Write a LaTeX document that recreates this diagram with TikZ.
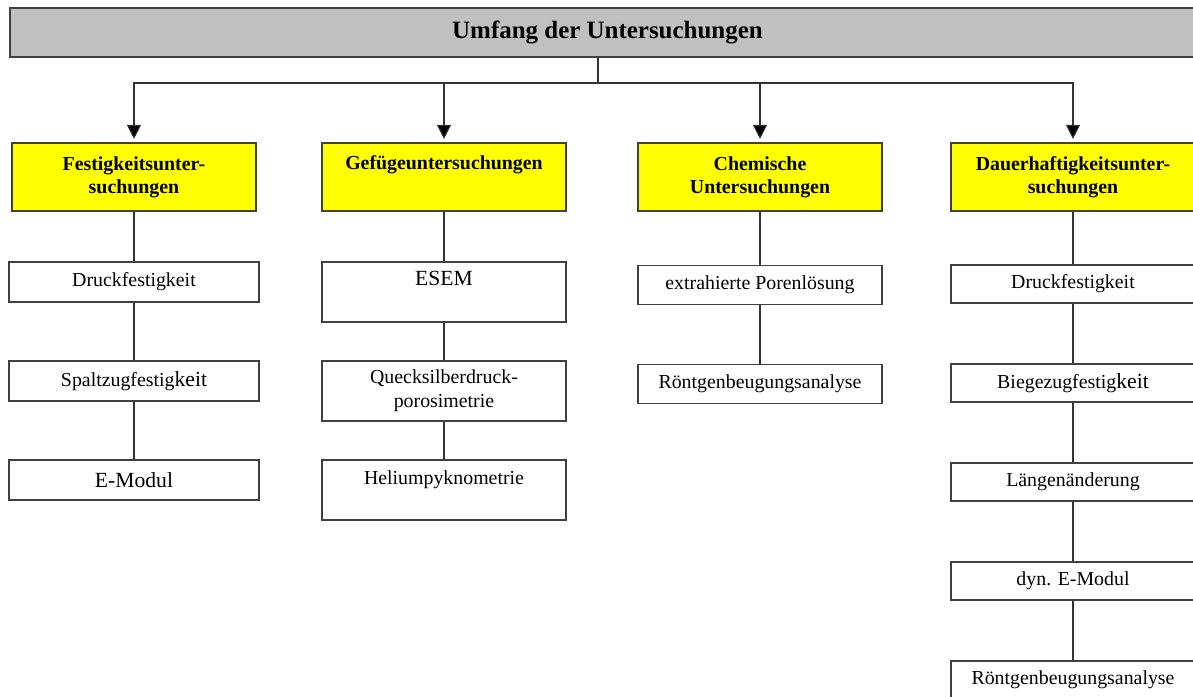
\documentclass[tikz,border=0pt]{standalone}
\usepackage{fontspec}
\setmainfont{Liberation Serif}
\usetikzlibrary{arrows.meta}
\definecolor{headyellow}{RGB}{255,255,0}
\definecolor{titlegray}{RGB}{192,192,192}

\begin{document}
\begin{tikzpicture}[
		x=0.2mm, y=-0.2mm,
		node distance={19.8mm},
		main/.style = {draw=black!75, line width=0.6pt, inner sep=0pt, align=center, font=\fontsize{11.3}{13.6}\selectfont},
		title/.style = {main, fill=titlegray, minimum width=239mm, minimum height=9.8mm, font=\fontsize{14.2}{17}\selectfont\bfseries},
		head/.style = {main, fill=headyellow, minimum width=48.8mm, minimum height=13.6mm, font=\fontsize{11.3}{13.2}\selectfont\bfseries},
		sub/.style = {main, fill=white, minimum width=48.8mm, minimum height=7.8mm},
		big/.style = {font=\fontsize{12.3}{14}\selectfont},
		line/.style = {draw=black!80, line width=0.6pt},
		arrow/.style = {line, -{Triangle[length=8pt, width=8pt, fill=black]}, shorten >=2pt}
	]
	\useasboundingbox (0,0) rectangle (1193,697);
	\node[title] (0) at (607.5,32.5) {Umfang der Untersuchungen};
	\node[head] (1) at (134,177) {Festigkeitsunter-\\suchungen};
	\node[head] (2) at (444,177) {Gefügeuntersuchungen\\[3pt] ~};
	\node[head] (3) at (760,177) {Chemische\\Untersuchungen};
	\node[head] (4) at (1073,177) {Dauerhaftigkeitsunter-\\suchungen};
	\node[sub, minimum width=50mm, minimum height=8mm] (11) at (134,282) {Druckfestigkeit};
	\node[sub, minimum width=50mm, minimum height=8mm] (12) [below of=11] {Spaltzugfestig{\fontsize{12.3}{14}\selectfont keit}};
	\node[sub, minimum width=50mm, minimum height=8mm, big] (13) [below of=12] {E-Modul};
	\node[sub, minimum height=12mm, big] (21) at (444,292) {ESEM\\[2pt] ~};
	\node[sub, minimum height=12mm] (22) [below of=21] {Quecksilberdruck-\\porosimetrie};
	\node[sub, minimum height=12mm] (23) [below of=22] {Heliumpyknometrie\\ ~};
	\node[sub] (31) at (760,285) {extrahierte Porenlösung};
	\node[sub] (32) [below of=31] {Röntgenbeugungsanalyse};
	\node[sub, minimum height=7.6mm] (41) at (1073,284) {Druckfestigkeit};
	\node[sub, minimum height=7.6mm] (42) [below of=41] {Biegezugfestig{\fontsize{12.3}{14}\selectfont keit}};
	\node[sub, minimum height=7.6mm] (43) [below of=42] {Längenänderung};
	\node[sub, minimum height=7.6mm] (44) [below of=43] {dyn. E-Modul};
	\node[sub, minimum height=7.6mm] (45) [below of=44] {Röntgenbeugungsanalyse};
	\coordinate (hub) at (598,83);
	\draw[line] (0.south -| hub) -- (hub);
	\draw[arrow] (hub) -| (1);
	\draw[arrow] (hub) -| (2);
	\draw[arrow] (hub) -| (3);
	\draw[arrow] (hub) -| (4);
	\draw[line] (1) -- (11);
	\draw[line] (11) -- (12);
	\draw[line] (12) -- (13);
	\draw[line] (2) -- (21);
	\draw[line] (21) -- (22);
	\draw[line] (22) -- (23);
	\draw[line] (3) -- (31);
	\draw[line] (31) -- (32);
	\draw[line] (4) -- (41);
	\draw[line] (41) -- (42);
	\draw[line] (42) -- (43);
	\draw[line] (43) -- (44);
	\draw[line] (44) -- (45);
\end{tikzpicture}
\end{document}
